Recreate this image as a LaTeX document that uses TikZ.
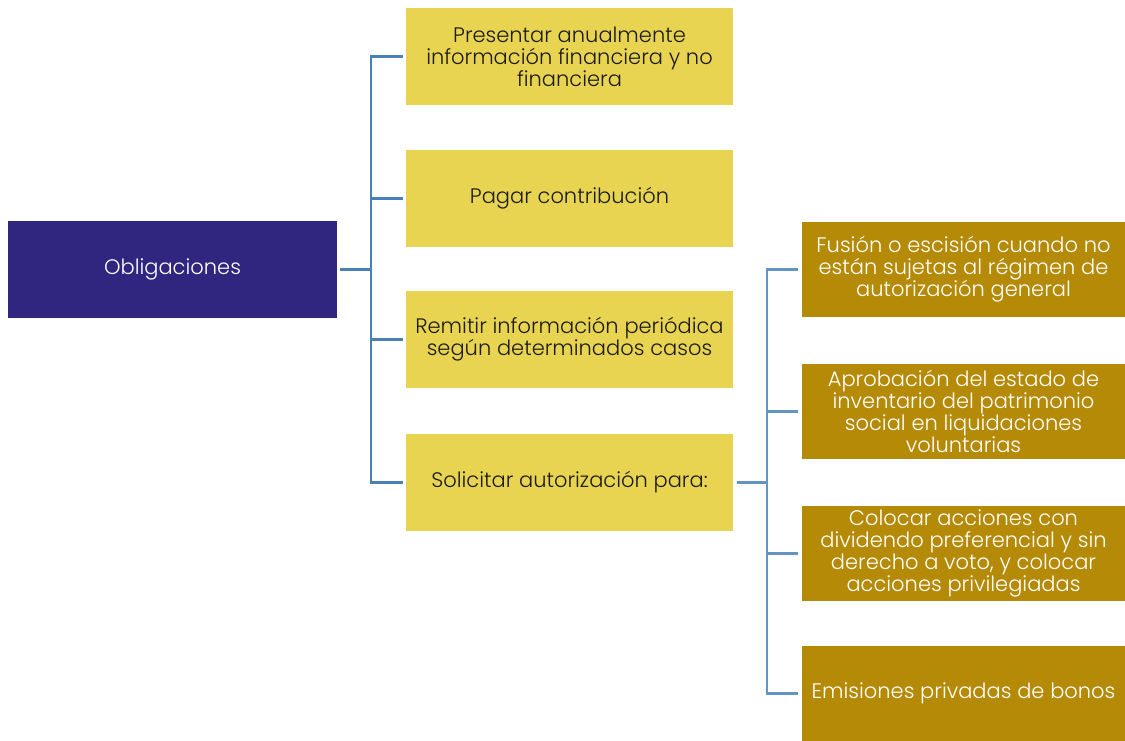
\documentclass[tikz,border=0pt]{standalone}
\usepackage{fontspec}
\setmainfont{Poppins}[UprightFont=* Light]
\usepackage{tikz}
\definecolor{navy}{HTML}{30267F}
\definecolor{sand}{HTML}{E9D452}
\definecolor{ochre}{HTML}{B58A06}
\definecolor{ink}{HTML}{1C1C1C}
\definecolor{link}{HTML}{4A80B8}

\begin{document}
\begin{tikzpicture}[x=1pt, y=-1pt]
      \useasboundingbox (0,0) rectangle (1125,740);
      {\tikzstyle{every node}=[inner sep=0pt, align=center, font=\fontsize{21}{22}\selectfont]
        \node[fill=navy, text=white, minimum width=329pt, minimum height=97pt] (o) at (172.5, 269.5) {Obligaciones};

        \foreach \i/\y/\t in {1/56.5/{Presentar anualmente\\información financiera y no\\financiera},
                              2/198.5/{Pagar contribución},
                              3/339.5/{Remitir información periódica\\según determinados casos},
                              4/482.5/{Solicitar autorización para:}}
        {
          \node[fill=sand, text=ink, minimum width=327pt, minimum height=97pt] (a\i) at (569.5, \y) {\t};
        }

        \foreach \j/\y/\t in {1/269.5/{Fusión o escisión cuando no\\están sujetas al régimen de\\autorización general},
                              2/411.5/{Aprobación del estado de\\inventario del patrimonio\\social en liquidaciones\\voluntarias},
                              3/553.5/{Colocar acciones con\\dividendo preferencial y sin\\derecho a voto, y colocar\\acciones privilegiadas},
                              4/693.5/{Emisiones privadas de bonos}}
        {
          \node[fill=ochre, text=white, minimum width=323pt, minimum height=95pt] (b\j) at (963.5, \y) {\t};
        }
      }

      \coordinate (j1) at (371, 269.5);
      \coordinate (j2) at (767, 482.5);

      \draw [link, line width=3pt, shorten <=3pt] (o) -- (j1);
      \foreach \i in {1, 2, 3, 4}
        \draw [link, line width=2.5pt, shorten >=3pt] (j1) |- (a\i);

      \draw [link!85!white, line width=3pt, shorten <=4pt] (a4) -- (j2);
      \foreach \j in {1, 2, 3, 4}
        \draw [link!85!white, line width=2.5pt, shorten >=4pt] (j2) |- (b\j);
    \end{tikzpicture}
\end{document}
